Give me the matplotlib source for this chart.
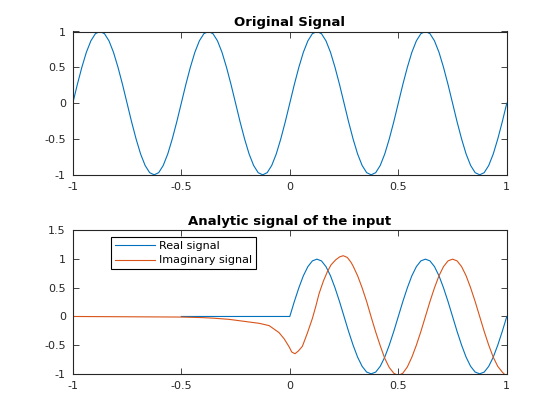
import matplotlib
matplotlib.use("Agg")
import matplotlib.pyplot as plt
from matplotlib.ticker import FormatStrFormatter
import numpy as np

plt.rcParams['axes.unicode_minus'] = False
plt.rcParams['font.family'] = ['DejaVu Sans']

# original signal (sample grid of 1/48)
t_orig = np.linspace(-1, 1, 97)
y_orig = [0, 0.26, 0.5, 0.71, 0.87, 0.97, 1, 0.97, 0.87, 0.71, 0.5, 0.26,
          0, -0.26, -0.5, -0.71, -0.87, -0.97, -1, -0.97, -0.87, -0.71, -0.5, -0.26,
          0, 0.26, 0.5, 0.71, 0.87, 0.97, 1, 0.97, 0.87, 0.71, 0.5, 0.26,
          0, -0.26, -0.5, -0.71, -0.87, -0.97, -1, -0.97, -0.87, -0.71, -0.5, -0.26,
          0, 0.26, 0.5, 0.71, 0.87, 0.97, 1, 0.97, 0.87, 0.71, 0.5, 0.26,
          0, -0.26, -0.5, -0.71, -0.87, -0.97, -1, -0.97, -0.87, -0.71, -0.5, -0.26,
          0, 0.26, 0.5, 0.71, 0.87, 0.97, 1, 0.97, 0.87, 0.71, 0.5, 0.26,
          0, -0.26, -0.5, -0.71, -0.87, -0.97, -1, -0.97, -0.87, -0.71, -0.5, -0.26,
          0]

# real part of the analytic signal (bottom panel, blue)
t_real = np.concatenate([[-0.5], np.linspace(0, 1, 49)])
y_real = [0,
          0, 0.26, 0.5, 0.71, 0.87, 0.97, 1, 0.97, 0.87, 0.71, 0.5, 0.26,
          0, -0.26, -0.5, -0.71, -0.87, -0.97, -1, -0.97, -0.87, -0.71, -0.5, -0.26,
          0, 0.26, 0.5, 0.71, 0.87, 0.97, 1, 0.97, 0.87, 0.71, 0.5, 0.26,
          0, -0.26, -0.5, -0.71, -0.87, -0.97, -1, -0.97, -0.87, -0.71, -0.5, -0.26,
          0]

# imaginary part (bottom panel, orange)
t_imag = [-1, -0.5, -0.4, -0.35, -0.28, -0.2, -0.14, -0.095, -0.05, -0.026, -0.003,
          0.009, 0.024, 0.04, 0.058, 0.08, 0.104, 0.12, 0.135, 0.155, 0.173,
          0.19, 0.212, 0.23, 0.246, 0.265, 0.2813, 0.2917, 0.3125, 0.3333, 0.3542,
          0.375, 0.3958, 0.4167, 0.4375, 0.4583, 0.4792, 0.5, 0.5208, 0.5417, 0.5625,
          0.5833, 0.6042, 0.625, 0.6458, 0.6667, 0.6875, 0.7083, 0.7292, 0.75, 0.7708,
          0.7917, 0.8125, 0.8333, 0.8542, 0.875, 0.8958, 0.9167, 0.9375, 0.9583, 0.9792,
          1.0]
y_imag = [0, -0.01, -0.02, -0.03, -0.05, -0.09, -0.12, -0.16, -0.28, -0.39, -0.53,
          -0.62, -0.65, -0.6, -0.52, -0.3, -0.035, 0.18, 0.40, 0.62, 0.78,
          0.90, 0.99, 1.04, 1.06, 1.03, 0.95, 0.88, 0.71, 0.50, 0.26,
          -0.01, -0.27, -0.51, -0.73, -0.89, -0.99, -1.03, -0.99, -0.88, -0.71,
          -0.50, -0.26, 0, 0.26, 0.50, 0.71, 0.87, 0.97, 1.0, 0.97,
          0.87, 0.71, 0.50, 0.26, 0, -0.26, -0.50, -0.71, -0.87, -0.97,
          -1.05]

blue = '#0072BD'
orange = '#D95319'
grey = '#262626'

fig = plt.figure(figsize=(5.6, 4.2), dpi=100)
ax1 = fig.add_axes([0.13, 0.5838, 0.775, 0.3412])
ax2 = fig.add_axes([0.13, 0.11, 0.775, 0.3412])

ax1.plot(t_orig, y_orig, color=blue, lw=0.8)
ax1.set_xlim(-1, 1)
ax1.set_ylim(-1, 1)
ax1.set_xticks([-1, -0.5, 0, 0.5, 1])
ax1.set_yticks([-1, -0.5, 0, 0.5, 1])
ax1.set_title('Original Signal', fontsize=9.5, fontweight='bold', pad=4)

ax2.plot(t_real, y_real, color=blue, lw=0.8, label='Real signal')
ax2.plot(t_imag, y_imag, color=orange, lw=0.8, label='Imaginary signal')
ax2.set_xlim(-1, 1)
ax2.set_ylim(-1, 1.5)
ax2.set_xticks([-1, -0.5, 0, 0.5, 1])
ax2.set_yticks([-1, -0.5, 0, 0.5, 1, 1.5])
ax2.set_title('Analytic signal of the input', fontsize=9.5, fontweight='bold', pad=4)
leg = ax2.legend(loc='upper left', bbox_to_anchor=(0.089, 0.954), borderaxespad=0,
                 fontsize=8, handlelength=3.6, handletextpad=0.3, labelspacing=0.4,
                 fancybox=False, framealpha=1, borderpad=0.35)
leg.get_frame().set_edgecolor('black')
leg.get_frame().set_linewidth(0.8)

for ax in (ax1, ax2):
    ax.xaxis.set_major_formatter(FormatStrFormatter('%g'))
    ax.yaxis.set_major_formatter(FormatStrFormatter('%g'))
    ax.tick_params(direction='in', length=4, width=0.6, top=True, right=True,
                   labelsize=8, colors=grey, pad=5)
    for s in ax.spines.values():
        s.set_linewidth(0.8)
        s.set_color(grey)

fig.savefig('out.png', dpi=100)
